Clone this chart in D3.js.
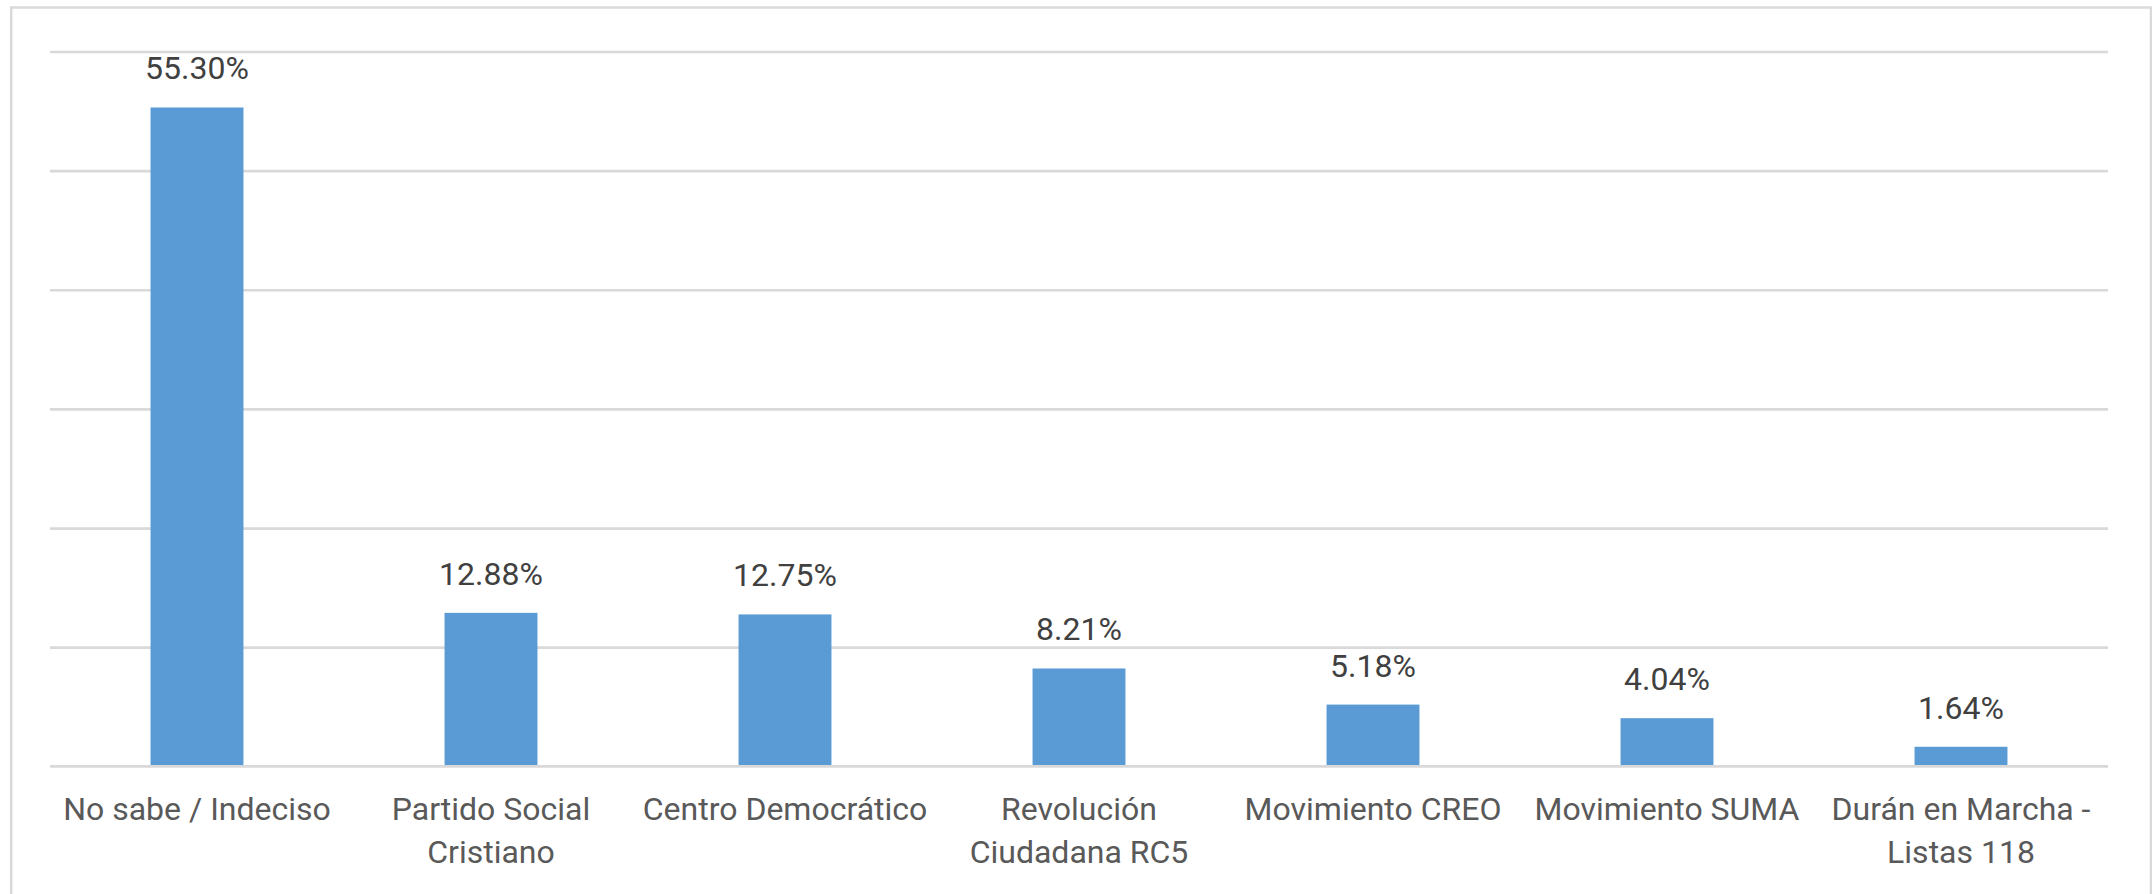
<!DOCTYPE html>
<html>
<head>
<meta charset="utf-8">
<script src="https://cdn.jsdelivr.net/npm/d3@7"></script>
<style>
  body { margin: 0; background: #fff; }
  svg { display: block; }
  .grid line { stroke: #d9d9d9; stroke-width: 2.7; }
  .grid .domain { display: none; }
  .barlabel { font-family: Roboto, "Open Sans", sans-serif; font-size: 32px; fill: #404040; text-anchor: middle; }
  .catlabel { font-family: Roboto, "Open Sans", sans-serif; font-size: 32px; fill: #595959; text-anchor: middle; }
</style>
</head>
<body>
<div id="chart"></div>
<script>
// category labels, split in lines the way the original wraps them
var categoryLines = [
  ["No sabe / Indeciso"],
  ["Partido Social", "Cristiano"],
  ["Centro Democrático"],
  ["Revolución", "Ciudadana RC5"],
  ["Movimiento CREO"],
  ["Movimiento SUMA"],
  ["Durán en Marcha -", "Listas 118"]
];
var values = [0.5530, 0.1288, 0.1275, 0.0821, 0.0518, 0.0404, 0.0164];
var valueLabels = ["55.30%", "12.88%", "12.75%", "8.21%", "5.18%", "4.04%", "1.64%"];
var gridTicks = [0, 0.1, 0.2, 0.3, 0.4, 0.5, 0.6];

var categories = categoryLines.map(function (l) { return l.join(" "); });

var data = categories.map(function (c, i) {
  return { name: c, lines: categoryLines[i], value: values[i], label: valueLabels[i] };
});

var fullWidth = 2152,
    fullHeight = 894;

var plot = { left: 50, right: 2108, top: 51.5, bottom: 766.3 };

var svg = d3.select("#chart").append("svg")
  .attr("width", fullWidth)
  .attr("height", fullHeight);

// chart border (bottom edge is cut off in the original)
svg.append("rect")
  .attr("x", 11.2)
  .attr("y", 7.5)
  .attr("width", 2139.8)
  .attr("height", 950)
  .attr("fill", "#fff")
  .attr("stroke", "#d9d9d9")
  .attr("stroke-width", 2.5);

var xScale = d3.scaleBand()
  .domain(categories)
  .range([plot.left, plot.right])
  .paddingInner(0.684)
  .paddingOuter(0.342);

var yScale = d3.scaleLinear()
  .domain([0, 0.6])
  .range([plot.bottom, plot.top]);

// horizontal gridlines, no tick text
svg.append("g")
  .attr("class", "grid")
  .attr("transform", "translate(" + plot.left + ",0)")
  .call(d3.axisLeft(yScale)
    .tickValues(gridTicks.slice(1))
    .tickSize(-(plot.right - plot.left))
    .tickFormat(""));

// bars
svg.selectAll(".bar")
  .data(data)
  .enter()
  .append("rect")
  .attr("class", "bar")
  .attr("x", function (d) { return xScale(d.name); })
  .attr("width", xScale.bandwidth())
  .attr("y", function (d) { return yScale(d.value); })
  .attr("height", function (d) { return yScale(0) - yScale(d.value); })
  .attr("fill", "#5b9bd5");

// category axis line drawn over the bar feet
svg.append("line")
  .attr("x1", plot.left)
  .attr("x2", plot.right)
  .attr("y1", yScale(0))
  .attr("y2", yScale(0))
  .attr("stroke", "#d9d9d9")
  .attr("stroke-width", 2.7);

// value labels above bars
svg.selectAll(".barlabel")
  .data(data)
  .enter()
  .append("text")
  .attr("class", "barlabel")
  .attr("x", function (d) { return xScale(d.name) + xScale.bandwidth() / 2; })
  .attr("y", function (d) { return yScale(d.value) - 28; })
  .text(function (d) { return d.label; });

// category labels under the axis
var cat = svg.selectAll(".catlabel")
  .data(data)
  .enter()
  .append("text")
  .attr("class", "catlabel")
  .attr("x", function (d) { return xScale(d.name) + xScale.bandwidth() / 2; })
  .attr("y", 820);

cat.selectAll("tspan")
  .data(function (d) { return d.lines; })
  .enter()
  .append("tspan")
  .attr("x", function () { return d3.select(this.parentNode).attr("x"); })
  .attr("dy", function (d, i) { return i === 0 ? 0 : 43; })
  .text(function (d) { return d; });
</script>
</body>
</html>
